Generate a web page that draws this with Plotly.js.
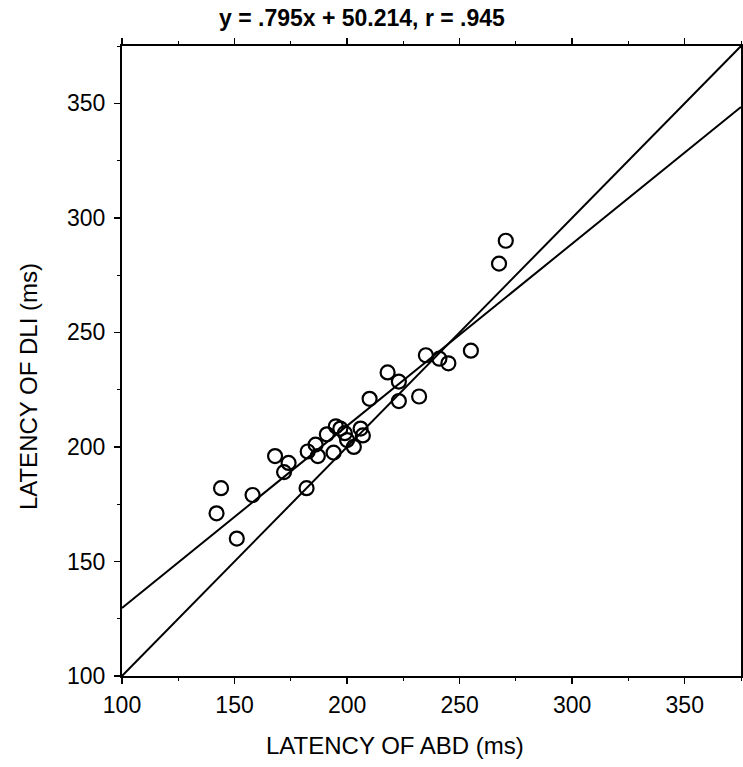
<!DOCTYPE html>
<html>
<head>
<meta charset="utf-8">
<script src="https://cdn.plot.ly/plotly-3.0.1.min.js"></script>
<style>html,body{margin:0;padding:0;background:#fff;}</style>
</head>
<body>
<div id="chart" style="width:743px;height:767px;"></div>
<script>
// Data
const abdLatency = [142, 144, 151, 158, 168, 172, 174, 182, 182.5, 186, 187, 191, 194, 195, 197, 199, 200, 203, 206, 207, 210, 218, 223, 223, 232, 235, 241, 245, 255, 267.5, 270.5];
const dliLatency = [171, 182, 160, 179, 196, 189, 193, 182, 198, 201, 196, 205.5, 197.5, 209, 208, 206, 203, 200, 208, 205, 221, 232.5, 228.5, 220, 222, 240, 238.5, 236.5, 242, 280, 290];
const regSlope = 0.795;
const regIntercept = 50.214;
const lineX = [100, 375];
const tickVals = [100, 150, 200, 250, 300, 350];
const titleText = "y = .795x + 50.214, r = .945";
const xTitle = "LATENCY OF ABD (ms)";
const yTitle = "LATENCY OF DLI (ms)";

const font = "Liberation Sans, Arial, Helvetica, sans-serif";

const traces = [
  {x: lineX, y: lineX.slice(), mode: "lines", line: {color: "#000", width: 2}, hoverinfo: "skip", showlegend: false},
  {x: lineX, y: lineX.map(v => regSlope * v + regIntercept), mode: "lines", line: {color: "#000", width: 2}, hoverinfo: "skip", showlegend: false},
  {x: abdLatency, y: dliLatency, mode: "markers", showlegend: false,
   marker: {symbol: "circle-open", size: 14, color: "#000", line: {color: "#000", width: 2.2}}}
];

const axisCommon = {
  range: [100, 375],
  tickvals: tickVals,
  ticktext: tickVals.map(String),
  ticks: "outside",
  ticklen: 6,
  tickwidth: 1.5,
  tickcolor: "#000",
  showline: true,
  linecolor: "#000",
  linewidth: 2,
  mirror: "ticks",
  showgrid: false,
  zeroline: false,
  tickfont: {family: font, size: 23, color: "#000"},
  minor: {tickvals: [125, 175, 225, 275, 325, 375], ticks: "outside", ticklen: 3, tickcolor: "#000", tickwidth: 1},
  fixedrange: true
};

const layout = {
  width: 743,
  height: 767,
  margin: {l: 122, r: 2, t: 46, b: 91},
  paper_bgcolor: "#fff",
  plot_bgcolor: "#fff",
  xaxis: Object.assign({}, axisCommon, {ticklabelstandoff: 1}),
  yaxis: Object.assign({}, axisCommon, {ticklabelstandoff: 4}),
  annotations: [
    {text: "<b>" + titleText + "</b>", xref: "paper", yref: "paper", x: 0.388, y: 1.044, xanchor: "center", yanchor: "middle", showarrow: false, font: {family: font, size: 23, color: "#000"}},
    {text: xTitle, xref: "paper", yref: "paper", x: 0.441, y: -0.111, xanchor: "center", yanchor: "middle", showarrow: false, font: {family: font, size: 24, color: "#000"}},
    {text: yTitle, xref: "paper", yref: "paper", x: -0.152, y: 0.46, xanchor: "center", yanchor: "middle", textangle: -90, showarrow: false, font: {family: font, size: 24, color: "#000"}}
  ]
};

Plotly.newPlot("chart", traces, layout, {displayModeBar: false, staticPlot: true});
</script>
</body>
</html>
